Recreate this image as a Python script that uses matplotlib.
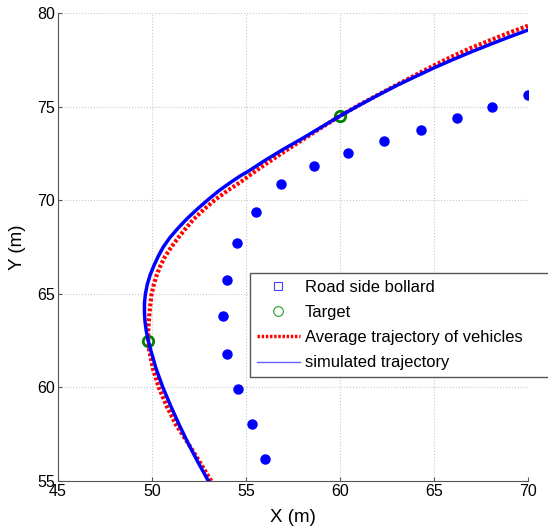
import matplotlib.pyplot as plt
from matplotlib.lines import Line2D

plt.rcParams['font.family'] = ['Liberation Sans', 'DejaVu Sans']

# Road side bollards
bollard_x = [56.0, 55.3, 54.55, 54.0, 53.8, 54.0, 54.5, 55.55, 56.85, 58.6,
             60.45, 62.35, 64.3, 66.2, 68.1, 70.0]
bollard_y = [56.2, 58.05, 59.9, 61.8, 63.8, 65.75, 67.7, 69.35, 70.85, 71.85,
             72.5, 73.15, 73.75, 74.4, 75.0, 75.6]

# Targets
target_x = [49.8, 60.0]
target_y = [62.48, 74.5]

# Average trajectory of vehicles
avg_x = [53.15, 52.55, 51.93, 51.28, 50.78, 50.36, 50.05, 49.85, 49.8, 49.8,
         49.83, 49.87, 49.92, 49.98, 50.1, 50.25, 50.45, 50.7, 51.03, 51.4,
         51.8, 52.23, 52.75, 53.33, 54.0, 54.75, 55.22, 56.0, 57.0, 58.0,
         59.0, 60.0, 61.0, 62.0, 63.0, 64.0, 65.0, 66.0, 67.0, 68.0, 69.0,
         70.0]
avg_y = [55.0, 56.0, 57.0, 58.0, 59.0, 60.0, 61.0, 62.0, 62.5, 63.0,
         63.5, 64.0, 64.5, 65.0, 65.5, 66.0, 66.5, 67.0, 67.5, 68.0,
         68.5, 69.0, 69.5, 70.0, 70.5, 71.0, 71.35, 71.9, 72.57, 73.22,
         73.87, 74.5, 75.08, 75.62, 76.15, 76.68, 77.2, 77.7, 78.15, 78.55,
         78.95, 79.32]

# Simulated trajectory
sim_x = [53.0, 52.45, 51.93, 51.45, 51.0, 50.58, 50.22, 49.93, 49.8, 49.7,
         49.63, 49.6, 49.6, 49.65, 49.75, 49.9, 50.1, 50.33, 50.6, 50.95,
         51.38, 51.85, 52.38, 52.95, 53.55, 54.25, 54.7, 55.22, 56.0, 57.0,
         58.0, 59.0, 60.0, 61.0, 62.0, 63.0, 64.0, 65.0, 66.0, 67.0, 68.0,
         69.0, 70.0]
sim_y = [55.0, 56.0, 57.0, 58.0, 59.0, 60.0, 61.0, 62.0, 62.5, 63.0,
         63.5, 64.0, 64.5, 65.0, 65.5, 66.0, 66.5, 67.0, 67.5, 68.0,
         68.5, 69.0, 69.5, 70.0, 70.5, 71.0, 71.3, 71.61, 72.12, 72.73,
         73.3, 73.9, 74.5, 75.06, 75.6, 76.12, 76.6, 77.07, 77.51, 77.93,
         78.33, 78.72, 79.09]

fig = plt.figure(figsize=(5.48, 5.29), dpi=100)
ax = fig.add_axes([0.1058, 0.0907, 0.8577, 0.8847])

ax.plot(bollard_x, bollard_y, 'o', color='#0000ff', markersize=6.5, zorder=3)
ax.plot(target_x, target_y, 'o', mfc='none', mec='#008000', markersize=7.5,
        mew=2, zorder=3)
ax.plot(avg_x, avg_y, color='#ff0000', linestyle=(0, (0.7, 0.5)), linewidth=3,
        zorder=4)
ax.plot(sim_x, sim_y, color='#0000ff', linewidth=2.5, zorder=5)

ax.set_xlim(45, 70)
ax.set_ylim(55, 80)
ax.set_xticks([45, 50, 55, 60, 65, 70])
ax.set_yticks([55, 60, 65, 70, 75, 80])
ax.grid(True, linestyle=':', color='#c8c8c8', linewidth=0.8)
ax.set_axisbelow(True)

for side in ['top', 'right']:
    ax.spines[side].set_visible(False)
for side in ['left', 'bottom']:
    ax.spines[side].set_color('#555555')
ax.tick_params(direction='in', length=3, color='#555555', labelsize=11.5,
               pad=2)

ax.set_xlabel('X (m)', fontsize=13.5, labelpad=7)
ax.set_ylabel('Y (m)', fontsize=13.5, labelpad=8)

handles = [
    Line2D([], [], linestyle='none', marker='s', mfc='none', mec='#4040ff',
           markersize=6, mew=0.8),
    Line2D([], [], linestyle='none', marker='o', mfc='none', mec='#2a9a2a',
           markersize=7, mew=0.8),
    Line2D([], [], color='#ff0000', linestyle=(0, (0.7, 0.5)), linewidth=2.5),
    Line2D([], [], color='#6666ff', linewidth=1),
]
labels = ['Road side bollard', 'Target', 'Average trajectory of vehicles',
          'simulated trajectory']
leg = ax.legend(handles, labels, loc='upper left', mode='expand',
                bbox_to_anchor=(250 / 548, 1 - 375 / 529, 320 / 548,
                                102 / 529),
                bbox_transform=fig.transFigure, fontsize=11.9, fancybox=False,
                edgecolor='#555555', framealpha=1, borderpad=0.4,
                labelspacing=0.62, handlelength=2.6, handletextpad=0.3,
                borderaxespad=0)
leg.get_frame().set_linewidth(1)

fig.savefig('out.png', dpi=100)
